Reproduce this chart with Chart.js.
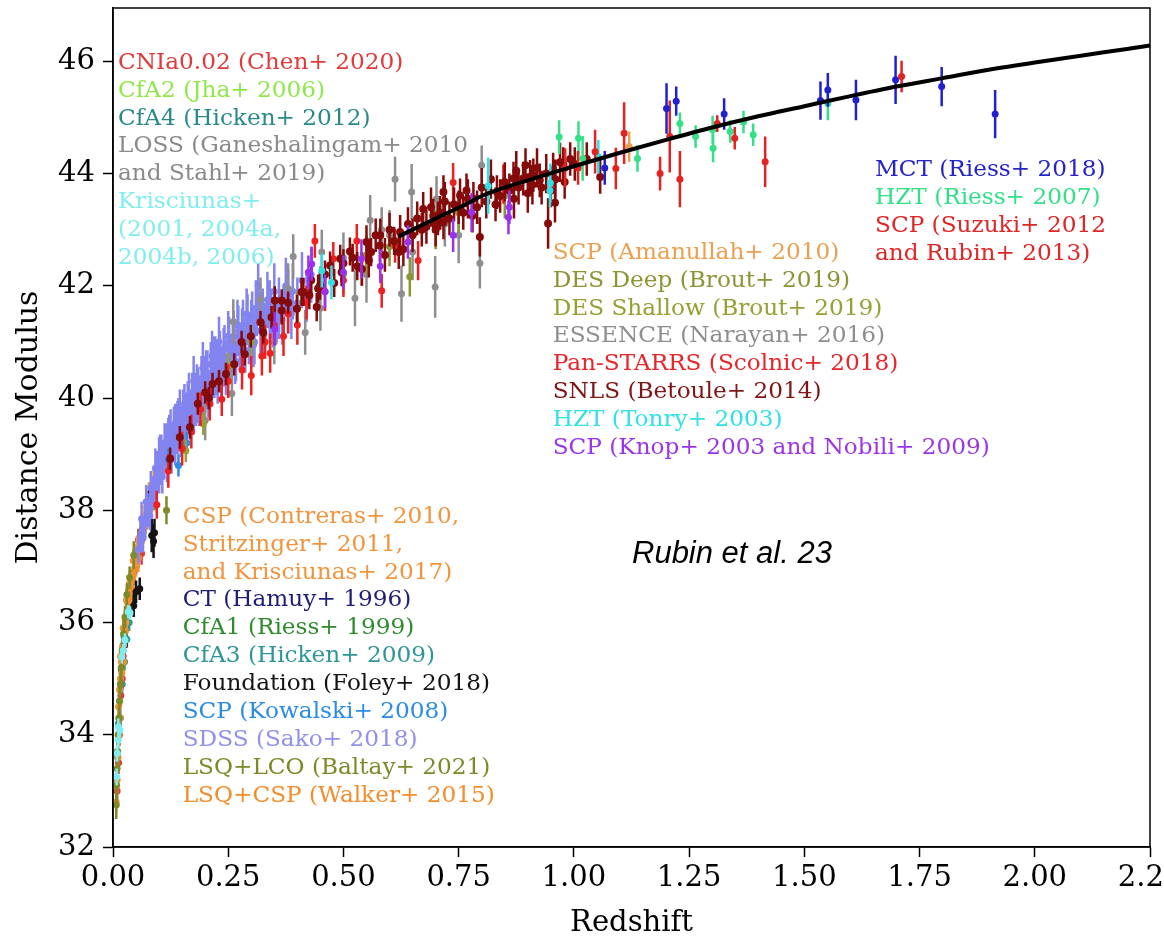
<!DOCTYPE html>
<html>
<head>
<meta charset="utf-8">
<script src="https://cdn.jsdelivr.net/npm/chart.js@4.4.1/dist/chart.umd.min.js"></script>
<style>
  html, body { margin: 0; padding: 0; background: #fff; overflow: hidden; }
  canvas { display: block; }
</style>
</head>
<body>
<canvas id="hubble" width="1200" height="938"></canvas>
<script>
// each point is [redshift, distance modulus, 1-sigma error]
const xTicks = [0, 0.25, 0.5, 0.75, 1.0, 1.25, 1.5, 1.75, 2.0, 2.25];
const yTicks = [32, 34, 36, 38, 40, 42, 44, 46];

// model curve, only visible where it leaves the crowd of points
const curveZ  = [0.62, 0.7, 0.77, 0.8, 0.9, 1.0, 1.1, 1.2, 1.3, 1.4, 1.5, 1.6, 1.7, 1.8, 1.9, 2.0, 2.1, 2.2, 2.25];
const curveMu = [42.88, 43.2, 43.47, 43.6, 43.88, 44.13, 44.37, 44.6, 44.82, 45.02, 45.2, 45.38, 45.55, 45.7, 45.85, 45.98, 46.1, 46.22, 46.28];

const cfa1 = [[0.02,35.3,0.15],[0.03,36.1,0.15],[0.045,36.9,0.15],[0.055,37.3,0.15]];
const cfa2 = [[0.015,34.6,0.15],[0.025,35.8,0.15],[0.035,36.35,0.15],[0.05,37.1,0.15]];
const cfa3 = [[0.01,33.6,0.15],[0.013,34.3,0.15],[0.017,35.0,0.15],[0.022,35.6,0.15],[0.028,36.05,0.15],[0.034,36.4,0.12],[0.04,36.7,0.15],[0.048,37.0,0.15],[0.057,37.25,0.15],
  [0.016,34.3,0.15],[0.02,34.9,0.15],[0.025,35.3,0.15],[0.03,35.7,0.15],[0.035,36.0,0.15],[0.04,36.3,0.15]];
const cfa4 = [[0.012,34.2,0.15],[0.018,35.15,0.15],[0.024,35.75,0.15],[0.03,36.15,0.15],[0.042,36.75,0.15],[0.06,37.4,0.15]];
const ct = [[0.025,35.6,0.15],[0.04,36.5,0.15],[0.05,37.0,0.15],[0.06,37.35,0.15],[0.075,38.0,0.15]];
const loss = [[0.01,33.7,0.2],[0.016,34.9,0.2],[0.022,35.5,0.2],[0.03,36.1,0.2],[0.04,36.6,0.2]];
const cnia = [[0.009,33.0,0.2],[0.012,33.5,0.2],[0.014,34.0,0.2],[0.017,34.7,0.2],[0.02,35.0,0.2],[0.022,35.4,0.15],[0.055,37.47,0.2],[0.062,37.23,0.2]];
const csp = [[0.012,34.5,0.15],[0.014,34.8,0.12],[0.016,35.0,0.15],[0.018,35.3,0.12],[0.02,35.5,0.12],[0.023,35.6,0.15],[0.025,35.9,0.12],[0.028,36.0,0.12],[0.03,36.2,0.15],[0.032,36.35,0.12],[0.035,36.4,0.12],[0.038,36.6,0.15],[0.042,36.75,0.12],[0.045,36.85,0.12],[0.05,37.05,0.15],[0.055,37.3,0.12],[0.06,37.4,0.15],[0.065,37.6,0.15],[0.07,37.7,0.12],[0.075,37.85,0.12],[0.08,38.0,0.15],[0.085,38.2,0.15],[0.098,38.6,0.2],
  [0.068,37.9,0.2],[0.078,38.3,0.2],[0.088,38.5,0.2],[0.052,37.35,0.2],[0.044,37.1,0.2],[0.036,36.7,0.2],[0.029,36.4,0.2],[0.022,35.9,0.2],[0.016,35.4,0.2]];
const lsqCsp = [[0.007,32.8,0.2],[0.009,33.2,0.25],[0.011,33.6,0.2],[0.013,34.0,0.2],[0.015,34.3,0.2],[0.019,35.1,0.2],[0.023,35.3,0.2],[0.027,35.85,0.2],[0.034,36.3,0.2],[0.04,36.6,0.2],[0.047,36.95,0.2],[0.055,37.15,0.25],[0.062,37.45,0.2],[0.07,37.8,0.2]];
const lsqLco = [[0.007,32.75,0.25],[0.008,33.1,0.3],[0.009,33.4,0.2],[0.01,33.7,0.25],[0.011,34.0,0.3],[0.013,34.3,0.2],[0.014,34.6,0.25],[0.016,34.9,0.2],[0.018,35.2,0.3],[0.02,35.5,0.2],[0.023,35.8,0.25],[0.026,36.1,0.2],[0.03,36.5,0.2],[0.036,36.8,0.2],[0.045,37.2,0.25],[0.06,37.6,0.2],[0.075,38.0,0.2],[0.09,38.3,0.3],[0.116,38.0,0.25]];
const foundation = [[0.078,38.15,0.2],[0.084,37.55,0.3],[0.088,37.45,0.3],[0.09,37.6,0.25],[0.05,36.55,0.2],[0.058,36.6,0.2],[0.045,36.3,0.2]];
const krisciunas = [[0.008,33.25,0.15],[0.009,33.67,0.15],[0.0115,34.14,0.15],[0.019,35.39,0.12],[0.022,35.5,0.12],[0.026,35.69,0.12],[0.033,36.19,0.12],[0.037,36.17,0.12],[0.0115,33.9,0.15],[0.015,34.08,0.12]];
const sdss = [[0.055,37.3,0.25],[0.06,37.55,0.3],[0.065,37.5,0.25],[0.07,37.8,0.3],[0.075,38.0,0.3],[0.08,37.9,0.25],[0.085,38.3,0.3],[0.09,38.35,0.3],[0.095,38.7,0.35],[0.1,38.6,0.3],
  [0.105,39.0,0.35],[0.11,38.85,0.3],[0.115,39.2,0.35],[0.12,39.0,0.3],[0.125,39.4,0.4],[0.13,39.15,0.3],[0.135,39.55,0.35],[0.14,39.3,0.3],[0.145,39.75,0.4],[0.15,39.45,0.3],
  [0.155,39.9,0.35],[0.16,39.55,0.3],[0.165,40.05,0.4],[0.17,39.7,0.3],[0.175,40.3,0.45],[0.18,39.85,0.35],[0.185,40.2,0.35],[0.19,40.0,0.3],[0.195,40.55,0.45],[0.2,40.1,0.35],
  [0.205,40.45,0.4],[0.21,40.2,0.3],[0.215,40.75,0.45],[0.22,40.35,0.35],[0.225,40.6,0.4],[0.23,41.0,0.45],[0.235,40.5,0.35],[0.24,40.85,0.4],[0.245,40.4,0.35],[0.25,41.1,0.45],
  [0.255,40.7,0.4],[0.26,41.0,0.4],[0.265,40.6,0.35],[0.27,41.3,0.45],[0.275,40.9,0.4],[0.28,41.15,0.45],[0.285,40.8,0.35],[0.29,41.5,0.45],[0.295,41.0,0.4],[0.3,41.3,0.45],
  [0.305,40.95,0.4],[0.31,41.6,0.5],[0.315,42.0,0.4],[0.32,41.2,0.4],[0.325,41.5,0.45],[0.33,41.3,0.4],[0.335,41.75,0.5],[0.34,41.45,0.45],[0.35,41.9,0.5],[0.355,41.4,0.4],
  [0.36,41.7,0.45],[0.37,41.55,0.45],[0.375,42.0,0.5],[0.38,41.6,0.45],[0.39,41.9,0.5],[0.4,41.7,0.45],[0.41,42.1,0.5],[0.42,41.8,0.45],[0.43,42.2,0.5],
  [0.1,39.0,0.3],[0.12,39.3,0.35],[0.14,39.6,0.35],[0.16,39.8,0.3],[0.18,40.1,0.35],[0.2,40.35,0.4],[0.22,40.7,0.4],[0.24,40.55,0.35],[0.26,40.75,0.35],[0.28,40.95,0.4],
  [0.3,41.1,0.4],[0.32,41.45,0.45],[0.34,41.65,0.45],[0.36,41.45,0.4],[0.38,41.85,0.45],[0.135,39.1,0.3],[0.155,39.35,0.3],[0.175,39.65,0.3],[0.195,39.95,0.3],[0.215,40.2,0.35],[0.235,40.3,0.35],
  [0.062,37.85,0.3],[0.072,38.15,0.3],[0.082,38.4,0.3],[0.092,38.75,0.35],[0.102,39.0,0.35],[0.112,39.2,0.35],[0.122,39.35,0.35],[0.132,39.5,0.35],[0.142,39.65,0.35],[0.152,39.8,0.35],
  [0.162,39.95,0.35],[0.172,40.1,0.35],[0.182,40.2,0.4],[0.192,40.35,0.4],[0.202,40.45,0.4],[0.212,40.6,0.4],[0.222,40.7,0.4],[0.232,40.8,0.4],[0.242,40.9,0.4],[0.252,41.0,0.45],
  [0.262,41.1,0.45],[0.272,41.2,0.45],[0.282,41.3,0.45],[0.292,41.4,0.45],[0.302,41.45,0.45],[0.312,41.55,0.45],
  [0.107,38.6,0.3],[0.117,38.8,0.3],[0.127,38.95,0.3],[0.147,39.25,0.3],[0.167,39.55,0.3],[0.187,39.8,0.3],[0.207,40.0,0.35],[0.227,40.25,0.35],[0.247,40.45,0.35],[0.267,40.65,0.35],
  [0.287,40.85,0.4],[0.307,41.0,0.4],[0.327,41.15,0.4],[0.347,41.3,0.4],[0.367,41.4,0.45],[0.387,41.5,0.45],
  [0.063,37.65,0.3],[0.083,38.2,0.3],[0.103,38.8,0.35],[0.123,39.1,0.35],[0.143,39.4,0.35],[0.163,39.7,0.35],[0.183,39.95,0.4],[0.203,40.2,0.4],[0.223,40.45,0.4],[0.243,40.65,0.4],
  [0.263,40.85,0.4],[0.283,41.05,0.45],[0.303,41.2,0.45],[0.323,41.35,0.45],[0.343,41.5,0.45]];
const kowalski = [[0.142,38.8,0.2],[0.12,38.9,0.2],[0.16,39.2,0.2]];
const essence = [[0.258,40.08,0.4],[0.261,41.36,0.4],[0.417,41.17,0.4],[0.453,42.6,0.4],[0.525,41.78,0.5],[0.558,43.17,0.45],[0.583,43.0,0.4],[0.612,43.9,0.4],[0.626,41.86,0.5],[0.648,43.67,0.5],
  [0.699,41.98,0.55],[0.702,43.55,0.4],[0.796,42.4,0.45],[0.8,44.15,0.35],[0.35,41.0,0.4],[0.38,41.95,0.45],[0.391,42.52,0.4],[0.45,41.6,0.4],[0.5,42.5,0.45],[0.55,42.2,0.5],
  [0.6,42.9,0.45],[0.65,42.6,0.5],[0.72,43.1,0.4],[0.75,42.9,0.5],[0.32,41.75,0.4],[0.2,39.6,0.35]];
const desShallow = [[0.158,39.06,0.2],[0.196,39.54,0.2],[0.25,40.55,0.25],[0.3,41.0,0.3],[0.4,41.6,0.3],[0.5,42.2,0.35]];
const desDeep = [[0.35,41.3,0.3],[0.45,42.05,0.3],[0.55,42.55,0.35],[0.6,42.7,0.35],[0.644,42.16,0.35],[0.7,43.0,0.35],[0.75,43.3,0.35],[0.85,43.6,0.4]];
const panstarrs = [[0.095,38.1,0.25],[0.12,38.7,0.3],[0.15,39.1,0.3],[0.17,39.4,0.3],[0.19,39.8,0.3],[0.21,39.9,0.3],[0.236,39.98,0.3],[0.25,40.3,0.3],[0.28,40.5,0.35],[0.3,40.4,0.35],
  [0.323,40.75,0.35],[0.341,40.8,0.35],[0.33,41.0,0.3],[0.35,41.3,0.35],[0.37,41.1,0.35],[0.38,41.5,0.35],[0.4,41.3,0.35],[0.42,41.7,0.3],[0.438,42.8,0.3],[0.46,41.9,0.35],
  [0.478,42.48,0.3],[0.5,42.1,0.3],[0.529,42.8,0.3],[0.54,42.3,0.3],[0.583,41.91,0.3],[0.612,42.71,0.3],[0.662,42.45,0.35],[0.738,43.84,0.35],[0.847,43.81,0.35]];
const snls = [[0.124,38.92,0.2],[0.145,39.3,0.2],[0.167,39.48,0.2],[0.184,39.9,0.2],[0.2,40.1,0.2],[0.208,40.0,0.2],[0.216,40.25,0.2],[0.23,40.3,0.2],[0.245,40.43,0.2],[0.263,40.6,0.2],
  [0.279,41.0,0.2],[0.286,40.78,0.2],[0.299,41.1,0.2],[0.32,41.35,0.2],[0.326,41.17,0.2],[0.344,41.44,0.2],[0.351,41.74,0.25],[0.366,41.56,0.25],[0.366,41.74,0.2],[0.38,41.7,0.2],
  [0.399,41.59,0.25],[0.409,41.89,0.25],[0.413,41.89,0.25],[0.426,41.83,0.25],[0.43,42.1,0.25],[0.442,41.62,0.25],[0.445,41.95,0.25],[0.449,42.0,0.25],[0.46,42.2,0.25],[0.471,42.36,0.25],
  [0.48,42.05,0.25],[0.493,42.48,0.25],[0.496,42.24,0.25],[0.5,42.4,0.25],[0.514,42.61,0.25],[0.52,42.5,0.25],[0.53,42.35,0.25],[0.54,42.3,0.3],[0.55,42.78,0.3],[0.555,42.45,0.3],
  [0.56,42.6,0.25],[0.57,42.9,0.3],[0.579,42.72,0.3],[0.58,42.9,0.3],[0.59,42.55,0.3],[0.6,43.0,0.3],[0.61,42.8,0.25],[0.62,42.6,0.3],[0.623,42.96,0.3],[0.63,42.65,0.3],
  [0.64,43.1,0.3],[0.65,42.9,0.3],[0.66,43.2,0.3],[0.67,43.0,0.3],[0.673,43.37,0.3],[0.68,43.05,0.3],[0.69,43.4,0.35],[0.695,43.25,0.3],[0.7,43.0,0.3],[0.705,43.2,0.3],
  [0.71,43.3,0.3],[0.717,43.13,0.3],[0.717,43.67,0.3],[0.72,43.5,0.35],[0.73,43.2,0.3],[0.74,43.45,0.3],[0.75,43.4,0.3],[0.753,43.61,0.3],[0.76,43.3,0.3],[0.767,43.7,0.3],
  [0.77,43.55,0.35],[0.78,43.25,0.3],[0.782,43.55,0.3],[0.79,43.4,0.3],[0.796,42.87,0.35],[0.8,43.75,0.35],[0.81,43.5,0.3],[0.82,43.9,0.35],[0.83,43.45,0.3],[0.833,43.67,0.3],
  [0.84,43.6,0.3],[0.85,43.85,0.35],[0.86,43.7,0.3],[0.869,43.91,0.3],[0.87,43.55,0.35],[0.875,44.05,0.35],[0.88,43.75,0.3],[0.89,43.91,0.3],[0.895,44.15,0.3],[0.9,43.65,0.35],
  [0.905,43.94,0.3],[0.91,43.8,0.35],[0.912,43.97,0.3],[0.92,44.1,0.35],[0.926,43.88,0.3],[0.93,43.75,0.3],[0.94,44.0,0.35],[0.944,43.11,0.45],[0.95,43.7,0.3],[0.955,44.07,0.3],
  [0.959,43.48,0.35],[0.96,43.9,0.35],[0.97,44.2,0.35],[0.977,44.17,0.3],[0.98,43.85,0.3],[0.992,44.26,0.3],[1.002,44.17,0.3],[1.028,44.26,0.3],[1.057,43.94,0.3]];
const knop = [[0.351,41.23,0.3],[0.424,42.24,0.3],[0.431,42.39,0.3],[0.46,41.9,0.3],[0.5,42.24,0.3],[0.539,42.48,0.35],[0.58,42.35,0.3],[0.64,42.78,0.3],[0.738,42.9,0.3],[0.778,43.31,0.35],[0.858,43.22,0.3],[0.86,43.4,0.3]];
const tonry = [[0.453,42.27,0.3],[0.474,42.06,0.3],[0.814,43.78,0.5],[0.948,43.7,0.3],[0.949,43.83,0.35],[1.053,44.3,0.3]];
const amanullah = [[1.12,44.48,0.27]];
const hztRiess = [[0.968,44.65,0.3],[1.01,44.63,0.3],[1.019,44.27,0.4],[1.138,44.27,0.24],[1.23,44.89,0.2],[1.264,44.66,0.2],[1.301,44.78,0.25],[1.302,44.45,0.25],[1.339,44.75,0.2],[1.368,44.92,0.2],[1.389,44.69,0.2],[1.551,45.25,0.3]];
const scpSuzuki = [[0.981,44.1,0.35],[1.009,44.1,0.3],[1.046,44.39,0.39],[1.091,44.09,0.37],[1.109,44.72,0.55],[1.187,44.0,0.3],[1.208,44.66,0.64],[1.23,43.9,0.5],[1.311,44.89,0.15],[1.349,44.63,0.2],[1.415,44.21,0.45],[1.711,45.73,0.28]];
const mct = [[1.067,44.1,0.3],[1.201,45.16,0.45],[1.222,45.29,0.26],[1.326,45.06,0.28],[1.535,45.3,0.34],[1.551,45.49,0.3],[1.612,45.31,0.36],[1.698,45.67,0.43],[1.798,45.55,0.35],[1.914,45.06,0.43]];

// bottom -> top drawing order
const series = [
  { name: 'CfA1', pts: cfa1, color: '#2e8c2e' },
  { name: 'CfA2', pts: cfa2, color: '#8fe84a' },
  { name: 'CfA3', pts: cfa3, color: '#2e9696' },
  { name: 'CfA4', pts: cfa4, color: '#2a8a8a' },
  { name: 'CT', pts: ct, color: '#1e1e78' },
  { name: 'LOSS', pts: loss, color: '#8a8a8a' },
  { name: 'CNIa0.02', pts: cnia, color: '#e03a3a' },
  { name: 'CSP', pts: csp, color: '#f0943e' },
  { name: 'LSQ+CSP', pts: lsqCsp, color: '#f58c2a' },
  { name: 'LSQ+LCO', pts: lsqLco, color: '#7e8a28' },
  { name: 'Foundation', pts: foundation, color: '#141414' },
  { name: 'Krisciunas', pts: krisciunas, color: '#80eeee' },
  { name: 'SDSS', pts: sdss, color: '#8484f0' },
  { name: 'SCP Kowalski', pts: kowalski, color: '#2a8ce8' },
  { name: 'ESSENCE', pts: essence, color: '#8e8e8e' },
  { name: 'DES Shallow', pts: desShallow, color: '#96a033' },
  { name: 'DES Deep', pts: desDeep, color: '#8c9433' },
  { name: 'Pan-STARRS', pts: panstarrs, color: '#ee2020' },
  { name: 'SNLS', pts: snls, color: '#850a0a', r: 4 },
  { name: 'SCP Knop', pts: knop, color: '#9a30f0' },
  { name: 'HZT Tonry', pts: tonry, color: '#30e0e6' },
  { name: 'SCP Amanullah', pts: amanullah, color: '#eba050' },
  { name: 'HZT Riess', pts: hztRiess, color: '#33e088' },
  { name: 'SCP Suzuki', pts: scpSuzuki, color: '#e52222' },
  { name: 'MCT', pts: mct, color: '#2020d0' }
];

const labelBlocks = [
  { x: 118, y: 62.7, rows: [
    ['CNIa0.02 (Chen+ 2020)', '#e03a3a'], ['CfA2 (Jha+ 2006)', '#8fe84a'], ['CfA4 (Hicken+ 2012)', '#2a8a8a'],
    ['LOSS (Ganeshalingam+ 2010', '#8a8a8a'], ['and Stahl+ 2019)', '#8a8a8a'],
    ['Krisciunas+', '#80eeee'], ['(2001, 2004a,', '#80eeee'], ['2004b, 2006)', '#80eeee']] },
  { x: 552.7, y: 252.7, rows: [
    ['SCP (Amanullah+ 2010)', '#eba050'], ['DES Deep (Brout+ 2019)', '#8c9433'], ['DES Shallow (Brout+ 2019)', '#96a033'],
    ['ESSENCE (Narayan+ 2016)', '#8e8e8e'], ['Pan-STARRS (Scolnic+ 2018)', '#e8262a'], ['SNLS (Betoule+ 2014)', '#7f1515'],
    ['HZT (Tonry+ 2003)', '#30e0e6'], ['SCP (Knop+ 2003 and Nobili+ 2009)', '#9a35ea']] },
  { x: 875, y: 170, rows: [
    ['MCT (Riess+ 2018)', '#2424c8'], ['HZT (Riess+ 2007)', '#33e088'], ['SCP (Suzuki+ 2012', '#e02626'], ['and Rubin+ 2013)', '#e02626']] },
  { x: 182.7, y: 516.7, rows: [
    ['CSP (Contreras+ 2010,', '#f0943e'], ['Stritzinger+ 2011,', '#f0943e'], ['and Krisciunas+ 2017)', '#f0943e'],
    ['CT (Hamuy+ 1996)', '#1e1e78'], ['CfA1 (Riess+ 1999)', '#2e8c2e'], ['CfA3 (Hicken+ 2009)', '#2e9696'],
    ['Foundation (Foley+ 2018)', '#141414'], ['SCP (Kowalski+ 2008)', '#2a8ce8'], ['SDSS (Sako+ 2018)', '#9090ee'],
    ['LSQ+LCO (Baltay+ 2021)', '#7e8a28'], ['LSQ+CSP (Walker+ 2015)', '#f58c2a']] }
];

const serif = "'DejaVu Serif', serif";

// vertical error bars, drawn just before each series' markers
const errorBars = {
  id: 'errorBars',
  beforeDatasetDraw(chart, args) {
    const ds = chart.data.datasets[args.index];
    if (!ds.errs) return;
    const { ctx, chartArea: a } = chart;
    const xs = chart.scales.x, ys = chart.scales.y;
    ctx.save();
    ctx.beginPath();
    ctx.rect(a.left, a.top, a.right - a.left, a.bottom - a.top);
    ctx.clip();
    ctx.strokeStyle = ds.backgroundColor;
    ctx.lineWidth = 2.5;
    ctx.beginPath();
    ds.data.forEach((p, i) => {
      const px = xs.getPixelForValue(p.x);
      ctx.moveTo(px, ys.getPixelForValue(p.y - ds.errs[i]));
      ctx.lineTo(px, ys.getPixelForValue(p.y + ds.errs[i]));
    });
    ctx.stroke();
    ctx.restore();
  }
};

const frameAndText = {
  id: 'frameAndText',
  afterDraw(chart) {
    const { ctx, chartArea: a } = chart;
    ctx.save();
    ctx.strokeStyle = '#000';
    ctx.lineWidth = 1.5;
    ctx.strokeRect(a.left, a.top, a.right - a.left, a.bottom - a.top);

    ctx.textAlign = 'left';
    ctx.textBaseline = 'middle';
    ctx.font = "23.2px " + serif;
    labelBlocks.forEach(b => {
      b.rows.forEach((r, i) => {
        ctx.fillStyle = r[1];
        ctx.fillText(r[0], b.x, b.y + i * 27.9);
      });
    });
    ctx.fillStyle = '#000';
    ctx.font = "italic 31px 'Liberation Sans', Arial, sans-serif";
    ctx.fillText('Rubin et al. 23', 632, 554);
    ctx.restore();
  }
};

const datasets = series.map(s => ({
  type: 'scatter',
  label: s.name,
  data: s.pts.map(p => ({ x: p[0], y: p[1] })),
  errs: s.pts.map(p => p[2]),
  backgroundColor: s.color,
  borderWidth: 0,
  pointRadius: s.r || 3.5
}));
datasets.push({
  type: 'line',
  label: 'model',
  data: curveZ.map((z, i) => ({ x: z, y: curveMu[i] })),
  borderColor: '#000',
  borderWidth: 4,
  pointRadius: 0,
  cubicInterpolationMode: 'monotone'
});
datasets.reverse(); // chart.js paints the first dataset on top

new Chart(document.getElementById('hubble'), {
  type: 'scatter',
  data: { datasets },
  options: {
    responsive: false,
    animation: false,
    events: [],
    layout: { padding: { top: 8, right: 50, left: 0, bottom: 0 } },
    plugins: { legend: { display: false }, tooltip: { enabled: false } },
    scales: {
      x: {
        type: 'linear', min: 0, max: 2.25,
        afterBuildTicks: s => { s.ticks = xTicks.map(v => ({ value: v })); },
        afterFit: s => { s.height = 91; s.paddingLeft = 0; s.paddingRight = 0; },
        grid: { drawOnChartArea: false, drawTicks: true, tickLength: 10, tickWidth: 1.5, tickColor: '#000' },
        border: { display: true, color: '#000', width: 1.5 },
        ticks: { color: '#000', padding: 4, font: { family: serif, size: 29 }, maxRotation: 0, autoSkip: false, callback: v => v.toFixed(2) },
        title: { display: true, text: 'Redshift', color: '#000', font: { family: serif, size: 29, lineHeight: 1.0 }, padding: { top: 0, bottom: 0 } }
      },
      y: {
        type: 'linear', min: 32, max: 46.95,
        afterBuildTicks: s => { s.ticks = yTicks.map(v => ({ value: v })); },
        afterFit: s => { s.width = 113; s.paddingTop = 0; s.paddingBottom = 0; },
        grid: { drawOnChartArea: false, drawTicks: true, tickLength: 10, tickWidth: 1.5, tickColor: '#000' },
        border: { display: true, color: '#000', width: 1.5 },
        ticks: { color: '#000', padding: 8, font: { family: serif, size: 29 }, callback: v => String(v) },
        title: { display: true, text: 'Distance Modulus', color: '#000', font: { family: serif, size: 30, lineHeight: 1.0 }, padding: { top: 14, bottom: 0 } }
      }
    }
  },
  plugins: [errorBars, frameAndText]
});
</script>
</body>
</html>
